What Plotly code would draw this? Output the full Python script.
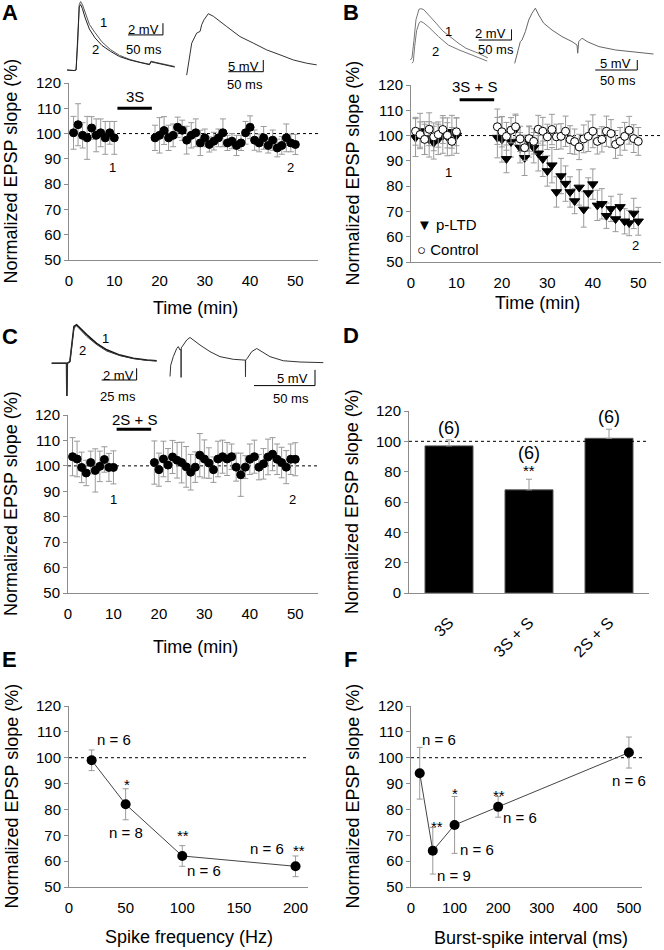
import plotly.graph_objects as go

W, H = 664, 950
FONT = "Liberation Sans, Arial, Helvetica, sans-serif"
GREY = "#8c8c8c"
ERRC = "#9a9a9a"

# ---------------- DATA ----------------
time_pts = [1, 2, 3, 4, 5, 6, 7, 8, 9, 10,
            19, 20, 21, 22, 23, 24, 25, 26, 27, 28, 29, 30, 31, 32, 33, 34, 35, 36, 37, 38,
            39, 40, 41, 42, 43, 44, 45, 46, 47, 48, 49, 50]

a_vals = [100.3, 103.5, 99.3, 98.3, 102.2, 99.3, 100.3, 98.3, 100.3, 98.3,
          98.3, 99.3, 101.2, 98.3, 99.3, 102.5, 101.3, 97.4, 99.3, 100.3, 96.3, 98.3, 95.7, 97.0,
          98.3, 100.3, 96.3, 97.0, 95.3, 96.3, 100.3, 102.5, 97.4, 96.3, 98.3, 95.3, 97.4, 94.3,
          95.3, 98.3, 96.3, 95.7]
a_err = [6.5, 8.3, 5.0, 8.5, 4.5, 6.5, 5.5, 6.5, 4.5, 6.5,
         5.0, 7.0, 5.5, 5.0, 4.5, 4.0, 4.0, 5.5, 5.0, 5.5, 5.0, 3.5, 3.0, 3.5, 3.5, 5.5, 3.0,
         3.0, 4.0, 3.0, 4.5, 4.5, 4.0, 3.5, 4.5, 3.0, 4.0, 3.5, 3.5, 5.5, 3.5, 4.0]

b_ltd_vals = [99.2, 101.8, 99.0, 98.5, 97.2, 98.5, 100.0, 99.5, 101.5, 100.0,
              99.2, 98.5, 90.8, 97.5, 102.5, 95.2, 91.2, 97.5, 95.2, 93.0, 90.8, 86.0, 88.3, 77.7,
              84.0, 81.0, 77.7, 74.1, 79.5, 70.8, 77.3, 80.8, 72.4, 73.0, 68.3, 71.0, 67.0, 71.8,
              66.1, 65.4, 69.2, 66.1]
b_ltd_err = [7.5, 7, 6.5, 7, 6.5, 6, 7, 7.5, 6.5, 7,
             8, 9, 5.5, 6, 6, 6, 7, 6, 6, 7, 7, 6, 7, 6, 7, 7, 6, 5, 7, 7, 6, 6, 6, 6, 5, 5, 5,
             5, 5, 5, 6, 5.5]
b_ctl_vals = [101.7, 100.4, 98.5, 102.5, 99.5, 100.4, 102.4, 100.1, 97.7, 101.5,
              103.5, 101.5, 99.7, 102.1, 103.5, 98.7, 95.2, 98.8, 97.7, 102.5, 101.7, 99.5, 102.4,
              99.5, 99.7, 101.7, 98.4, 97.6, 95.5, 98.7, 99.7, 101.7, 97.7, 98.5, 101.7, 100.8,
              96.5, 97.7, 99.7, 102.1, 98.8, 97.7]
b_ctl_err = [5.5, 5, 6, 6.5, 5.5, 5, 5.5, 5, 5.5, 5.5,
             7, 6, 5.5, 5, 4.5, 5, 5, 5, 5, 5.5, 5.5, 5, 6, 5, 5, 6, 5.5, 5, 5, 5.5, 6, 6.5, 5,
             5, 6, 5.5, 5.5, 5.5, 5.5, 5.5, 5.5, 5.5]

c_vals = [103.6, 102.7, 99.4, 97.2, 101.3, 98.2, 99.8, 102.5, 99.4, 99.4,
          101.3, 98.5, 102.7, 100.3, 103.5, 102.2, 101.3, 99.6, 97.5, 99.5, 104.2, 102.7, 101.1,
          98.5, 102.7, 103.6, 102.7, 103.6, 99.5, 96.5, 99.5, 102.6, 103.6, 99.5, 100.8, 103.5,
          104.6, 102.6, 101.3, 99.5, 102.6, 102.6]
c_err = [7.5, 7, 6, 5, 4.5, 8.5, 6, 5, 5.5, 6.5,
         8.5, 6.5, 7, 6.5, 6.5, 7, 8, 8, 7, 6, 8.5, 7.5, 6, 5, 7, 6.5, 6.5, 5, 5.5, 8.5, 4.5,
         6, 6.5, 5, 6, 7, 6.5, 6, 6, 6.5, 6, 6.5]

d_cats = ["3S", "3S + S", "2S + S"]
d_vals = [97, 68, 102]
d_err = [4, 7, 6]
d_n = ["(6)", "(6)", "(6)"]
d_sig = ["", "**", ""]

e_freq = [20, 50, 100, 200]
e_vals = [99, 82, 62, 58]
e_err = [4, 6, 4, 4]

f_int = [20, 50, 100, 200, 500]
f_vals = [94, 64, 74, 81, 102]
f_err = [10, 9, 11, 4, 6]

# example sweeps (ms, mV)
a_left_t = [0, 10, 13, 15.5, 17.5, 19.5, 22, 26, 32, 40, 50, 62, 75, 90, 105, 118, 120, 127, 140, 154]
a_left_v1 = [0, -0.1, 0, 5, 11.2, 11.7, 11.2, 9.8, 7.8, 6.4, 4.8, 3.5, 2.5, 1.8, 1.3, 1.0, 1.5, 1.3, 1.0, 0.6]
a_left_v2 = [0, -0.1, 0, 5, 10.8, 11.2, 10.5, 8.9, 7.0, 5.5, 4.2, 3.2, 2.3, 1.7, 1.2, 0.9, 1.4, 1.2, 0.9, 0.5]
a_right_t = [0, 2.4, 7.2, 14.3, 19.1, 21.5, 24.8, 30.9, 38.1, 57.2, 76.2, 95.3, 114.4, 133.4, 152.5, 171.6, 185.9]
a_right_v = [-2.2, 2.2, 11.5, 15.8, 16.5, 19.4, 21.5, 24.1, 23.0, 18.6, 14.3, 11.5, 8.6, 6.5, 4.3, 2.9, 2.2]

b_left_t1 = [0.5, 3, 6, 9, 13.6, 16.7, 21, 28.8, 39.4, 50, 60.6, 72.7, 84.8, 103, 118]
b_left_v1 = [0, 0.4, 3.7, 7.5, 9.5, 9.6, 9.4, 8.4, 6.9, 5.4, 4.3, 3.2, 2.2, 1.3, 0.4]
b_left_t2 = [3, 5, 7, 10, 14, 16.5, 20, 28, 43, 58, 74, 94, 117]
b_left_v2 = [-0.6, -0.3, 2.5, 5.5, 7.0, 7.2, 7.0, 6.2, 4.4, 2.8, 1.9, 0.9, -0.2]
b_right_t = [0.8, 3.6, 7.5, 9.5, 13.5, 17.5, 21.4, 25.4, 29.4, 35.3, 45.2, 57.1, 69, 75, 75.8, 77, 81, 87, 101, 121, 140, 166]
b_right_v = [-1.7, 2.5, 9.2, 10, 14.2, 20, 23.4, 25.9, 22.5, 18.4, 15, 11.7, 9.2, 7.5, 3.4, 9.2, 10.9, 9.2, 6.7, 5, 4.2, 3]

c_left_t = [0, 10.6, 10.8, 11.2, 13, 14.2, 15.9, 17.8, 20.2, 25, 32.1, 39.3, 48.8, 58.3, 67.9, 75]
c_left_v1 = [0, 0, -5.6, 0, 0.3, 3.1, 6.3, 6.6, 6.0, 4.9, 3.4, 2.3, 1.4, 0.86, 0.56, 0.45]
c_left_v2 = [0, 0, -5.6, 0, 0.3, 3.0, 6.0, 6.4, 5.8, 4.6, 3.2, 2.1, 1.3, 0.8, 0.5, 0.4]
c_right_t = [0, 0.6, 2.7, 4.1, 5.5, 6.8, 8.2, 9.0, 9.1, 9.2, 10.9, 13.7, 16.4, 19.1, 24.6, 32.8, 41,
             51.9, 61.5, 61.8, 61.9, 62.0, 63.4, 67, 71.1, 75.2, 82, 92.9, 106.6, 125.7]
c_right_v = [-4.6, -1, 1.7, 3.3, 4.3, 4.9, 3.8, 4.0, -4.9, 4.5, 5.4, 7, 7.8, 7, 5.4, 3.3, 1.7,
             0.86, 0.64, 0.6, -4.7, 0.6, 1.2, 3.3, 4.3, 3.3, 1.7, 0.4, 0, -0.2]

stim_window = [10.7, 18.3]

# ---------------- helpers ----------------
def PX(x):
    return x / W


def PY(y):
    return 1 - y / H


def ax_id(i):
    return ("x", "y") if i == 1 else ("x%d" % i, "y%d" % i)


fig = go.Figure()
annotations = []
shapes = []


def scatter_markers(i, x, y, err, symbol, fill, size):
    xa, ya = ax_id(i)
    fig.add_trace(go.Scatter(
        x=x, y=y, xaxis=xa, yaxis=ya, mode="markers",
        marker=dict(symbol=symbol, size=size, color=fill, line=dict(color="black", width=1)),
        error_y=dict(type="data", array=err, color=ERRC, thickness=1, width=3),
        showlegend=False, cliponaxis=False, hoverinfo="skip"))


def sweep(i, t, v, color, width):
    xa, ya = ax_id(i)
    fig.add_trace(go.Scatter(x=t, y=v, xaxis=xa, yaxis=ya, mode="lines",
                             line=dict(color=color, width=width), showlegend=False,
                             cliponaxis=False, hoverinfo="skip"))


def text_px(text, x, y, size=15, bold=False, **kw):
    d = dict(text=("<b>%s</b>" % text) if bold else text, x=PX(x), y=PY(y), xref="paper", yref="paper",
             showarrow=False, font=dict(size=size, color="black", family=FONT),
             xanchor="center", yanchor="middle")
    d.update(kw)
    annotations.append(d)


def text_data(i, text, x, y, size=15, **kw):
    xa, ya = ax_id(i)
    d = dict(text=text, x=x, y=y, xref=xa, yref=ya, showarrow=False,
             font=dict(size=size, color="black", family=FONT), xanchor="center", yanchor="middle")
    d.update(kw)
    annotations.append(d)


def hline100(i):
    xa, ya = ax_id(i)
    shapes.append(dict(type="line", xref=xa + " domain", yref=ya, x0=0, x1=1, y0=100, y1=100,
                       line=dict(color="black", width=1, dash="dot"), layer="below"))


def stim_bar(i, y):
    xa, ya = ax_id(i)
    shapes.append(dict(type="line", xref=xa, yref=ya, x0=stim_window[0], x1=stim_window[1], y0=y, y1=y,
                       line=dict(color="black", width=3)))


def scale_bar(i, x0, y0, ms, mv):
    xa, ya = ax_id(i)
    shapes.append(dict(type="line", xref=xa, yref=ya, x0=x0, x1=x0 + ms, y0=y0, y1=y0,
                       line=dict(color="black", width=1)))
    shapes.append(dict(type="line", xref=xa, yref=ya, x0=x0 + ms, x1=x0 + ms, y0=y0, y1=y0 + mv,
                       line=dict(color="black", width=1)))


layout = dict(width=W, height=H, margin=dict(l=0, r=0, t=0, b=0, pad=0, autoexpand=False),
              paper_bgcolor="white", plot_bgcolor="rgba(0,0,0,0)",
              font=dict(family=FONT, size=15, color="black"), showlegend=False)


def main_axes(i, xdom, ydom, xr, yr, xdtick, ydtick, cat=False):
    xa, ya = ax_id(i)
    xkey = "xaxis" if i == 1 else "xaxis%d" % i
    ykey = "yaxis" if i == 1 else "yaxis%d" % i
    xd = dict(domain=[PX(xdom[0]), PX(xdom[1])], anchor=ya, showline=True, linecolor=GREY, linewidth=1,
              showgrid=False, zeroline=False, ticks="outside", ticklen=7, tickcolor="rgba(0,0,0,0)",
              tickfont=dict(size=15, family=FONT, color="black"), fixedrange=True, automargin=False)
    if cat:
        xd.update(type="category", tickangle=-45, ticklen=13, tickfont=dict(size=16, family=FONT, color="black"))
    else:
        xd.update(range=xr, dtick=xdtick, tick0=0)
    yd = dict(domain=[PY(ydom[0]), PY(ydom[1])], anchor=xa, range=yr, dtick=ydtick, tick0=0,
              showline=True, linecolor=GREY, linewidth=1, showgrid=False, zeroline=False,
              ticks="outside", ticklen=4, tickcolor=GREY,
              tickfont=dict(size=15, family=FONT, color="black"), fixedrange=True, automargin=False)
    layout[xkey] = xd
    layout[ykey] = yd


def hidden_axes(i, xdom, ydom, xr, yr):
    xa, ya = ax_id(i)
    layout["xaxis%d" % i] = dict(domain=[PX(xdom[0]), PX(xdom[1])], range=xr, visible=False,
                                 anchor=ya, fixedrange=True, automargin=False)
    layout["yaxis%d" % i] = dict(domain=[PY(ydom[1]), PY(ydom[0])], range=yr, visible=False,
                                 anchor=xa, fixedrange=True, automargin=False)


# ---------------- main panels ----------------
main_axes(1, (69, 318), (260, 83), [0, 55], [50, 120], 10, 10)
main_axes(2, (411, 661), (262, 85), [0, 55], [50, 120], 10, 10)
main_axes(3, (68, 318), (593, 415), [0, 55], [50, 120], 10, 10)
main_axes(4, (409, 649), (593, 411), None, [0, 120], None, 20, cat=True)
main_axes(5, (69, 308), (887, 706), [0, 211], [50, 120], 50, 10)
main_axes(6, (411, 642), (887, 706), [0, 530], [50, 120], 100, 10)

# Panel A
hline100(1)
scatter_markers(1, time_pts, a_vals, a_err, "circle", "black", 8)
stim_bar(1, 110)
text_data(1, "3S", 14.5, 114.6)
text_data(1, "1", 9.6, 86.7, size=13)
text_data(1, "2", 49, 86.7, size=13)

# Panel B
hline100(2)
scatter_markers(2, time_pts, b_ltd_vals, b_ltd_err, "triangle-down", "black", 9)
scatter_markers(2, time_pts, b_ctl_vals, b_ctl_err, "circle", "white", 8)
stim_bar(2, 114.2)
text_data(2, "3S + S", 14, 119.4)
text_data(2, "1", 8.3, 85.4, size=13)
text_data(2, "2", 49.4, 56.4, size=13)
text_px("▼ p-LTD", 415, 224, xanchor="left")
text_px("○ Control", 415, 249, xanchor="left")

# Panel C
hline100(3)
scatter_markers(3, time_pts, c_vals, c_err, "circle", "black", 8)
stim_bar(3, 114.4)
text_data(3, "2S + S", 14.7, 118.3)
text_data(3, "1", 9.9, 86.8, size=13)
text_data(3, "2", 49.3, 86.8, size=13)

# Panel D
shapes.append(dict(type="line", xref="x4 domain", yref="y4", x0=0, x1=1, y0=100, y1=100,
                   line=dict(color="black", width=1, dash="dot"), layer="above"))
fig.add_trace(go.Bar(x=d_cats, y=d_vals, xaxis="x4", yaxis="y4", width=0.6,
                     marker=dict(color="black", line=dict(color="#555555", width=1)),
                     error_y=dict(type="data", symmetric=False, array=d_err, arrayminus=[0, 0, 0],
                                  color=ERRC, thickness=1, width=3),
                     showlegend=False, hoverinfo="skip"))
for cat, v, e, n, s in zip(d_cats, d_vals, d_err, d_n, d_sig):
    top = v + e
    text_data(4, n, cat, top, size=18, yanchor="bottom", yshift=(14 if s else 0))
    if s:
        text_data(4, s, cat, top, size=15, yanchor="bottom", yshift=-2)

# Panel E
hline100(5)
fig.add_trace(go.Scatter(x=e_freq, y=e_vals, xaxis="x5", yaxis="y5", mode="lines+markers",
                         line=dict(color="#444444", width=1),
                         marker=dict(symbol="circle", size=10, color="black"),
                         error_y=dict(type="data", array=e_err, color=ERRC, thickness=1, width=3),
                         showlegend=False, cliponaxis=False, hoverinfo="skip"))
e_labels = [("n = 6", 40, 107.2), ("*", 51, 89.5), ("n = 8", 50.4, 71.2), ("**", 100.6, 69.8),
            ("n = 6", 119.5, 56.2), ("n = 6", 175, 65), ("**", 203, 64.2)]
for t, x, y in e_labels:
    text_data(5, t, x, y)

# Panel F
hline100(6)
fig.add_trace(go.Scatter(x=f_int, y=f_vals, xaxis="x6", yaxis="y6", mode="lines+markers",
                         line=dict(color="#444444", width=1),
                         marker=dict(symbol="circle", size=10, color="black"),
                         error_y=dict(type="data", array=f_err, color=ERRC, thickness=1, width=3),
                         showlegend=False, cliponaxis=False, hoverinfo="skip"))
f_labels = [("n = 6", 64, 107.2), ("**", 60, 73.5), ("n = 9", 99, 54.5), ("*", 101, 86.2),
            ("n = 6", 151, 64.4), ("**", 202.5, 85.5), ("n = 6", 251, 77), ("n = 6", 500, 91)]
for t, x, y in f_labels:
    text_data(6, t, x, y)

# ---------------- example sweeps ----------------
hidden_axes(7, (65, 180), (0, 78), [-2.86, 161.6], [-1.37, 11.97])
sweep(7, a_left_t, a_left_v1, "#555555", 1)
sweep(7, a_left_t, a_left_v2, "#222222", 1)
scale_bar(7, 87.2, 6.0, 50, 2)
text_px("1", 103, 23, size=13)
text_px("2", 95, 50, size=13)
text_px("2 mV", 143, 30, size=13)
text_px("50 ms", 144, 49, size=13)

hidden_axes(8, (182, 320), (0, 78), [-6.7, 190.6], [-3.42, 29.96])
sweep(8, a_right_t, a_right_v, "#333333", 1)
scale_bar(8, 59.5, -0.73, 50, 5)
text_px("5 mV", 243, 66, size=13)
text_px("50 ms", 245, 84, size=13)

hidden_axes(9, (405, 512), (0, 70), [-7.6, 154.6], [-1.87, 11.22])
sweep(9, b_left_t1, b_left_v1, "#777777", 1)
sweep(9, b_left_t2, b_left_v2, "#777777", 1)
scale_bar(9, 104, 3.74, 50, 2)
text_px("1", 448.7, 31.7, size=13)
text_px("2", 436, 51.7, size=13)
text_px("2 mV", 490, 33, size=13)
text_px("50 ms", 496, 50, size=13)

hidden_axes(10, (512, 664), (0, 75), [-2.4, 178.5], [-7.5, 30])
sweep(10, b_right_t, b_right_v, "#666666", 1)
scale_bar(10, 96.7, -5, 50, 5)
text_px("5 mV", 615, 64, size=13)
text_px("50 ms", 618, 80, size=13)

hidden_axes(11, (48, 160), (320, 400), [-2.64, 77.4], [-6.28, 7.40])
sweep(11, c_left_t, c_left_v1, "#111111", 1.5)
sweep(11, c_left_t, c_left_v2, "#333333", 1)
scale_bar(11, 35.7, -2.86, 25, 2)
text_px("1", 106, 338, size=13)
text_px("2", 82.7, 350, size=13)
text_px("2 mV", 118, 375, size=13)
text_px("25 ms", 118, 396, size=13)

hidden_axes(12, (165, 330), (320, 400), [-4.1, 131.2], [-12.08, 13.36])
sweep(12, c_right_t, c_right_v, "#333333", 1)
scale_bar(12, 68.9, -7.5, 50, 5)
text_px("5 mV", 292, 378, size=13)
text_px("50 ms", 291, 399, size=13)

# ---------------- titles and panel letters ----------------
YT = "Normalized EPSP slope (%)"
for x, y in [(11, 171.5), (352, 173.5), (11, 504), (352, 502), (11, 796.5), (352, 796.5)]:
    text_px(YT, x, y, size=18, textangle=-90)
text_px("Time (min)", 195, 308, size=18)
text_px("Time (min)", 537, 303, size=18)
text_px("Time (min)", 195, 647, size=18)
text_px("Spike frequency (Hz)", 189, 937, size=18)
text_px("Burst-spike interval (ms)", 531, 938, size=18)

for letter, x, y in [("A", 10, 12), ("B", 351, 12), ("C", 10, 336), ("D", 351, 335),
                     ("E", 9, 659), ("F", 350, 659)]:
    text_px(letter, x, y, size=22, bold=True)

layout["annotations"] = annotations
layout["shapes"] = shapes
fig.update_layout(**layout)
fig.write_html("out.html", config={"displayModeBar": False, "staticPlot": True},
               post_script="document.body.style.margin='0px';document.body.style.overflow='hidden';")
